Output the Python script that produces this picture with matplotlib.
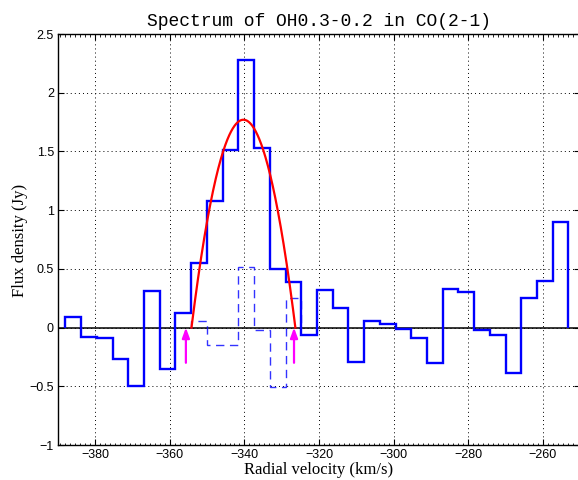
import numpy as np
import matplotlib
matplotlib.use("Agg")
import matplotlib.pyplot as plt
from matplotlib.ticker import MultipleLocator

# ---- data ----
v_start = -388.0          # km/s, left edge of first channel
dv = 4.216                # km/s, channel width
flux = [0.09, -0.08, -0.09, -0.27, -0.50, 0.31, -0.35, 0.12,
        0.55, 1.08, 1.51, 2.28, 1.53, 0.50, 0.39, -0.06,
        0.32, 0.17, -0.29, 0.06, 0.03, -0.01, -0.09, -0.30,
        0.33, 0.30, -0.02, -0.06, -0.39, 0.25, 0.40, 0.90]
resid_first_channel = 8
residual = [0.06, -0.15, -0.15, 0.52, -0.02, -0.51, 0.25]
# parabolic line-profile fit
fit_peak = 1.77
fit_center = -340.27
fit_halfwidth = 13.93
# marker arrows
arrow_v = [-355.7, -326.7]
arrow_from = -0.30
arrow_to = 0.0

xticks = [-380, -360, -340, -320, -300, -280, -260]
yticks = [-1, -0.5, 0, 0.5, 1, 1.5, 2, 2.5]
ytick_labels = ["\u22121", "\u22120.5", "0", "0.5", "1", "1.5", "2", "2.5"]
xtick_labels = ["\u2212380", "\u2212360", "\u2212340", "\u2212320", "\u2212300", "\u2212280", "\u2212260"]

title = "Spectrum of OH0.3-0.2 in CO(2-1)"
xlabel = "Radial velocity (km/s)"
ylabel = "Flux density (Jy)"

# ---- figure ----
fig = plt.figure(figsize=(5.78, 4.80), dpi=100)
ax = fig.add_axes([58/578, 35/480, 522/578, 411/480])

edges = v_start + dv * np.arange(len(flux) + 1)
ax.axhline(0, color="black", lw=1.1, zorder=2)
ax.stairs(flux, edges, baseline=0, color="#0000FF", lw=1.7, zorder=4)

r_edges = edges[resid_first_channel:resid_first_channel + len(residual) + 1]
ax.stairs(residual, r_edges, baseline=0, color="#0000FF", lw=1.0,
          linestyle=(0, (6, 4)), alpha=0.8, zorder=3)

vf = np.linspace(fit_center - fit_halfwidth, fit_center + fit_halfwidth, 300)
ff = fit_peak * (1 - ((vf - fit_center) / fit_halfwidth) ** 2)
ax.plot(vf, ff, color="#FF0000", lw=1.6, zorder=5)

for v in arrow_v:
    ax.annotate("", xy=(v, arrow_to), xytext=(v, arrow_from),
                arrowprops=dict(arrowstyle="-|>,head_length=0.6,head_width=0.22",
                                color="#FF00FF", lw=1.6, shrinkA=0, shrinkB=0),
                zorder=6)

ax.set_xlim(-390, -250)
ax.set_ylim(-1, 2.5)
ax.set_xticks(xticks)
ax.set_xticklabels(xtick_labels)
ax.set_yticks(yticks)
ax.set_yticklabels(ytick_labels)
ax.xaxis.set_minor_locator(MultipleLocator(4/3))
ax.tick_params(which="both", direction="in", top=True, right=True,
               labelsize=9, colors="black")
ax.tick_params(which="major", length=4, width=0.8, pad=3)
ax.tick_params(which="minor", length=1.8, width=0.6)
for lab in ax.get_xticklabels() + ax.get_yticklabels():
    lab.set_fontfamily("Liberation Sans")

ax.grid(True, which="major", color="black", linestyle=(0, (1, 3.2)), lw=0.7)
for s in ax.spines.values():
    s.set_linewidth(1.0)

fig.text(319/578, 1 - 26/480, title, ha="center", va="baseline",
         fontsize=13.0, family="Liberation Mono")
fig.text(319/578, 1 - 470/480, xlabel, ha="center", va="center",
         fontsize=12, family="Liberation Serif")
fig.text(20/578, 1 - 240/480, ylabel, ha="center", va="center", rotation=90,
         fontsize=12, family="Liberation Serif")

fig.savefig("out.png", dpi=100)
